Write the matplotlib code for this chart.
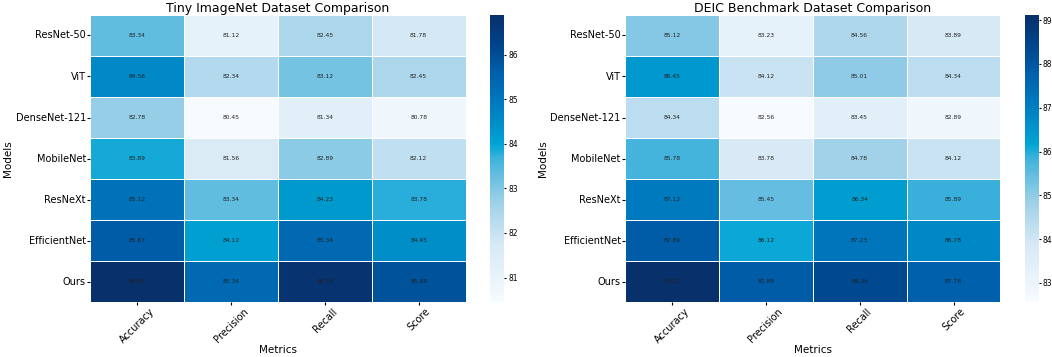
import numpy as np
import pandas as pd
import matplotlib
matplotlib.use("Agg")
import matplotlib.pyplot as plt
from matplotlib.colors import LinearSegmentedColormap
import seaborn as sns

models = ["ResNet-50", "ViT", "DenseNet-121", "MobileNet", "ResNeXt", "EfficientNet", "Ours"]
metrics = ["Accuracy", "Precision", "Recall", "Score"]

tiny_accuracy = [83.34, 84.56, 82.78, 83.89, 85.12, 85.67, 86.89]
tiny_precision = [81.12, 82.34, 80.45, 81.56, 83.34, 84.12, 85.34]
tiny_recall = [82.45, 83.12, 81.34, 82.89, 84.23, 85.34, 86.78]
tiny_score = [81.78, 82.45, 80.78, 82.12, 83.78, 84.45, 85.89]

deic_accuracy = [85.12, 86.45, 84.34, 85.78, 87.12, 87.89, 89.12]
deic_precision = [83.23, 84.12, 82.56, 83.78, 85.45, 86.12, 87.89]
deic_recall = [84.56, 85.01, 83.45, 84.78, 86.34, 87.23, 88.34]
deic_score = [83.89, 84.34, 82.89, 84.12, 85.89, 86.78, 87.78]

tiny = pd.DataFrame({"Accuracy": tiny_accuracy, "Precision": tiny_precision,
                     "Recall": tiny_recall, "Score": tiny_score}, index=models)
deic = pd.DataFrame({"Accuracy": deic_accuracy, "Precision": deic_precision,
                     "Recall": deic_recall, "Score": deic_score}, index=models)

# the published figure's blues are more cyan than matplotlib's "Blues"
cmap = LinearSegmentedColormap.from_list("cyan_blues", [
    (0.0, "#f7fbff"), (0.2, "#d6e9f5"), (0.35, "#9dd0e8"), (0.5, "#3fb2dc"),
    (0.55, "#00a5d5"), (0.62, "#008fc9"), (0.7, "#0078be"), (0.8, "#005faa"),
    (0.9, "#00438a"), (1.0, "#08306b")])

fig = plt.figure(figsize=(10.52, 3.57), dpi=100)

panels = [
    (tiny, "Tiny ImageNet Dataset Comparison", 0.0856, 0.466),
    (deic, "DEIC Benchmark Dataset Comparison", 0.594, 0.974),
]

for df, title, x0, cx in panels:
    ax = fig.add_axes([x0, 0.154, 0.357, 0.804])
    cax = fig.add_axes([cx, 0.154, 0.0133, 0.804])
    sns.heatmap(df, ax=ax, cbar_ax=cax, cmap=cmap, annot=True, fmt=".2f",
                linewidths=0.6, linecolor="white",
                annot_kws={"size": 4.3, "color": "#222222"})
    ax.set_title(title, fontsize=9, pad=2)
    ax.set_xlabel("Metrics", fontsize=7.5, labelpad=0)
    ax.set_ylabel("Models", fontsize=7.5, labelpad=2)
    ax.set_xticklabels(metrics, rotation=45, ha="center", fontsize=7)
    ax.set_yticklabels(models, rotation=0, fontsize=7)
    ax.tick_params(length=2, pad=1)
    cax.tick_params(labelsize=5.5, length=1.5, pad=1.5)

fig.savefig("out.png", dpi=100)
